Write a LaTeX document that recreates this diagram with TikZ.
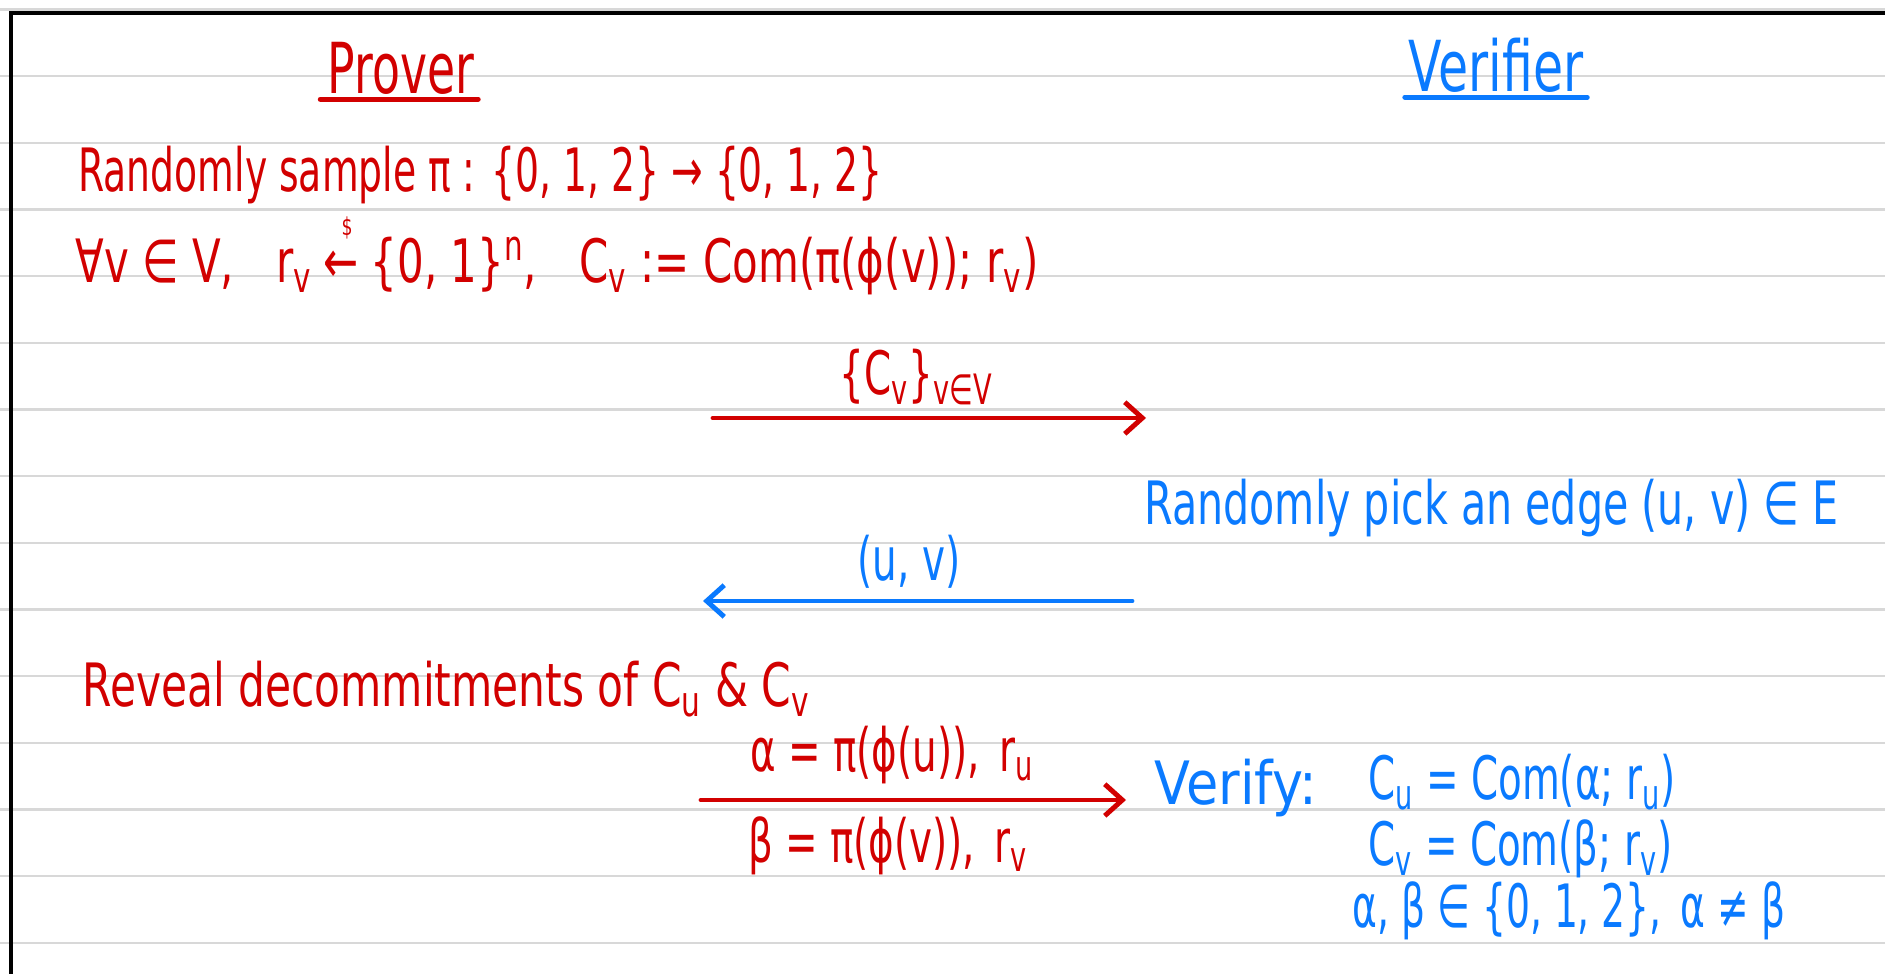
\documentclass[tikz,border=0pt]{standalone}
\usepackage{fontspec}
\setmainfont{DejaVu Sans}
\usetikzlibrary{arrows.meta}
\definecolor{rossoP}{RGB}{210,0,0}
\definecolor{bluV}{RGB}{10,122,255}
\definecolor{grigioR}{RGB}{216,216,216}
\newcommand{\randarrow}{←\llap{\raisebox{1.45ex}{\scriptsize\$}\hspace{0.15em}}}
\tikzset{
  mano/.style={font=\fontsize{17}{20}\selectfont, inner sep=0pt, xscale=0.65, transform shape},
  prov/.style={mano, text=rossoP, anchor=base west},
  verif/.style={mano, text=bluV, anchor=base west},
  titolo/.style={font=\fontsize{20}{24}\selectfont, inner sep=0pt, xscale=0.65, transform shape, anchor=base},
  sottolinea/.style={line width=1.4pt, line cap=round},
  freccia/.style={line width=1.4pt, line cap=round, -{Straight Barb[length=5pt,width=9pt]}},
  riga/.style={draw=grigioR, line width=0.6pt},
}
\begin{document}
\begin{tikzpicture}[x=0.01cm, y=-0.01cm]
  \useasboundingbox (0,0) rectangle (1885,974);
  %righe del quaderno
  \foreach \k in {0,...,14}
    \draw[riga] (0,9.5+66.67*\k) -- (1885,9.5+66.67*\k);
  %bordo
  \draw[line width=1.1pt] (11,974) -- (11,13) -- (1885,13);
  %intestazioni
  \node[titolo, text=rossoP] (prover) at (401,94) {Prover};
  \draw[sottolinea, rossoP] ([shift={(-2pt,-1pt)}]prover.south west) -- ([shift={(1pt,-1pt)}]prover.south east);
  \node[titolo, text=bluV, xscale=1.07] (verifier) at (1496,92) {Verifier};
  \draw[sottolinea, bluV] ([shift={(-1pt,-1pt)}]verifier.south west) -- ([shift={(1pt,-1pt)}]verifier.south east);
  %impegno del prover
  \node[prov, xscale=0.97] (campiona) at (78,192) {Randomly sample π : \{0, 1, 2\} → \{0, 1, 2\}};
  \node[prov, xscale=1.08] (impegno) at (75,283) {∀v ∈ V,\quad r\textsubscript{v}\;\randarrow\;\{0, 1\}\textsuperscript{n},\quad C\textsubscript{v} := Com(π(ϕ(v)); r\textsubscript{v})};
  \coordinate (p1) at (713,418);
  \coordinate (v1) at (1146,418);
  \draw[freccia, rossoP] (p1) -- node[mano, text=rossoP, above=3pt, pos=0.47] (msg1) {\{C\textsubscript{v}\}\textsubscript{v∈V}} (v1);
  %sfida
  \node[verif, xscale=1.06] (sceglie) at (1144,525) {Randomly pick an edge (u, v) ∈ E};
  \coordinate (v2) at (1132,601);
  \coordinate (p2) at (703,601);
  \draw[freccia, bluV] (v2) -- node[mano, text=bluV, above=3pt, pos=0.52] (msg2) {(u, v)} (p2);
  %apertura
  \node[prov, xscale=1.09] (rivela) at (82,707) {Reveal decommitments of C\textsubscript{u} \& C\textsubscript{v}};
  \coordinate (p3) at (701,800);
  \coordinate (v3) at (1126,800);
  \draw[freccia, rossoP] (p3) -- node[mano, text=rossoP, above=4pt, pos=0.45] (msg3a) {α = π(ϕ(u)),\enspace r\textsubscript{u}}
    node[mano, text=rossoP, below=4pt, pos=0.44] (msg3b) {β = π(ϕ(v)),\enspace r\textsubscript{v}} (v3);
  %verifica
  \node[verif, xscale=1.35] (verifica) at (1154,805) {Verify:};
  \node[verif] (cu) at (1368,800) {C\textsubscript{u} = Com(α; r\textsubscript{u})};
  \node[verif] (cv) at (1368,866) {C\textsubscript{v} = Com(β; r\textsubscript{v})};
  \node[verif, xscale=0.97] (diversi) at (1352,928) {α, β ∈ \{0, 1, 2\},\enspace α ≠ β};
\end{tikzpicture}
\end{document}
